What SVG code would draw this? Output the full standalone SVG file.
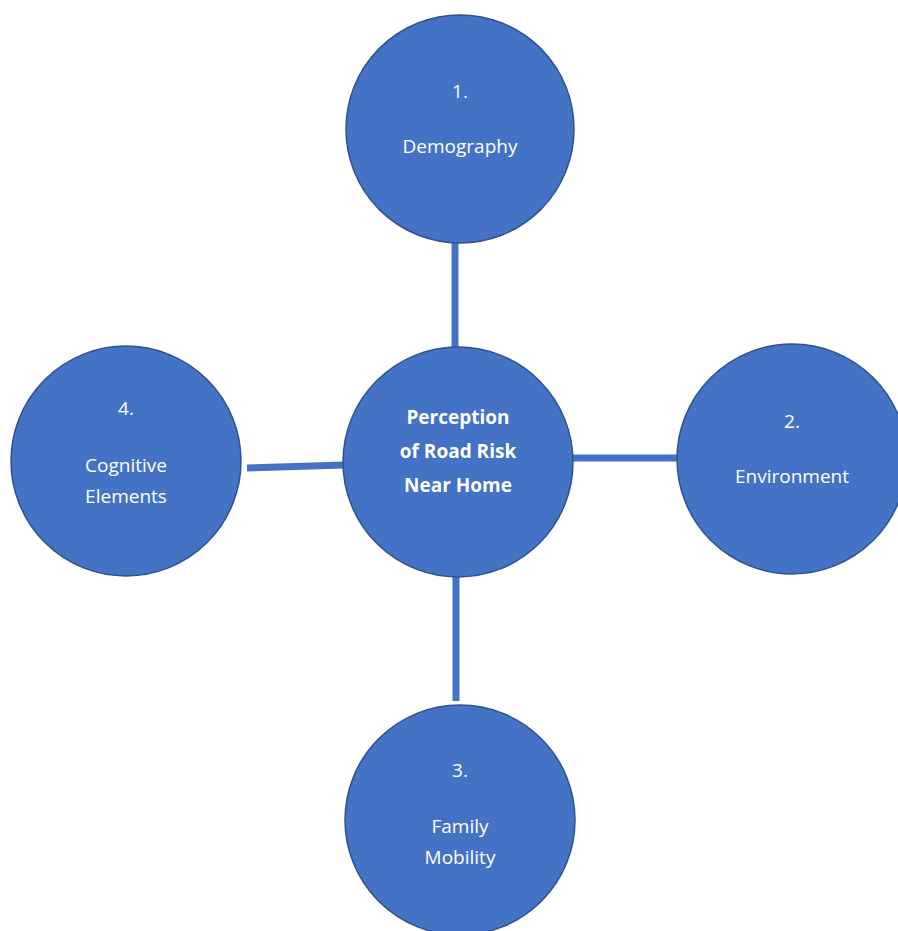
<svg xmlns="http://www.w3.org/2000/svg" width="898" height="931" viewBox="0 0 898 931">
<style>
.c{fill:#4472C4;stroke:#2F528F;stroke-width:1.5}
.t{font-family:"Open Sans","Noto Sans","Liberation Sans",sans-serif;font-size:19px;fill:#fff;text-anchor:middle;dominant-baseline:central}
.b{font-weight:bold}
.l{stroke:#4472C4;stroke-width:7;fill:none}
</style>
<rect width="898" height="931" fill="#fff"/>
<g id="connectors">
<line class="l" x1="455" y1="242" x2="455" y2="347"/>
<line class="l" x1="247" y1="468" x2="344" y2="465"/>
<line class="l" x1="572" y1="458" x2="678" y2="458"/>
<line class="l" x1="456" y1="577" x2="456" y2="701"/>
</g>
<g id="n1">
<circle class="c" cx="460" cy="129" r="114"/>
<text class="t" x="460" y="91">1.</text>
<text class="t" x="460" y="146">Demography</text>
</g>
<g id="center">
<circle class="c" cx="458" cy="462" r="115"/>
<text class="t b" x="458" y="417">Perception</text>
<text class="t b" x="458" y="451">of Road Risk</text>
<text class="t b" x="458" y="485">Near Home</text>
</g>
<g id="n4">
<circle class="c" cx="126" cy="461" r="115"/>
<text class="t" x="126" y="408">4.</text>
<text class="t" x="126" y="465">Cognitive</text>
<text class="t" x="126" y="496">Elements</text>
</g>
<g id="n2">
<circle class="c" cx="792" cy="459" r="115"/>
<text class="t" x="792" y="421">2.</text>
<text class="t" x="792" y="476">Environment</text>
</g>
<g id="n3">
<circle class="c" cx="460" cy="820" r="115"/>
<text class="t" x="460" y="770">3.</text>
<text class="t" x="460" y="826">Family</text>
<text class="t" x="460" y="857">Mobility</text>
</g>
</svg>
